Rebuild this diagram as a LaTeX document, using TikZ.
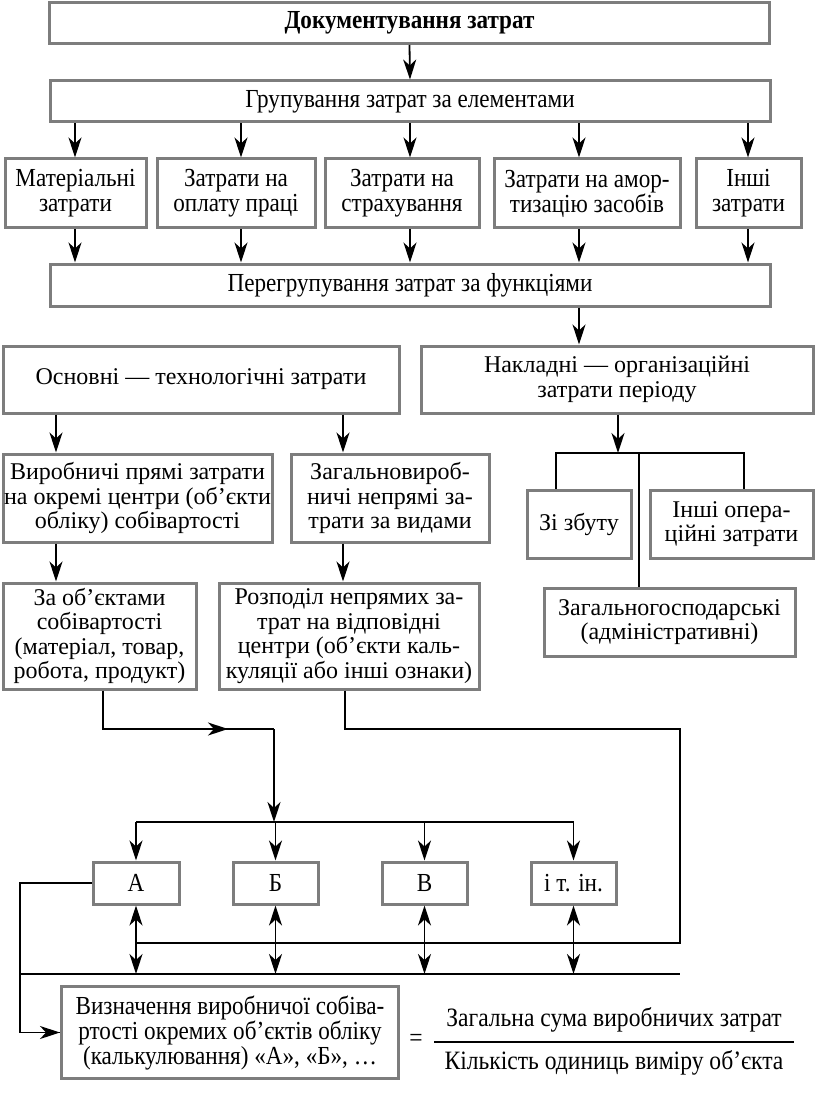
\documentclass[tikz,border=0pt]{standalone}
\usepackage{fontspec}
\setmainfont{Liberation Serif}
\newfontfamily\cond{Liberation Serif}[FakeStretch=0.89]
\usetikzlibrary{arrows.meta,calc}
\definecolor{boxgray}{RGB}{125,125,125}
\tikzset{
  >={Stealth[length=20pt,width=13pt,inset=6pt]},
  box/.style={draw=boxgray, line width=3pt, fill=white, align=center, inner sep=0pt},
  cbox/.style={box, font=\cond\fontsize{26}{25}\selectfont},
  rbox/.style={box, font=\fontsize{24}{24.5}\selectfont},
  conn/.style={line width=1.8pt, draw=black},
  arr/.style={conn, ->},
  darr/.style={conn, <->},
  ctext/.style={font=\cond\fontsize{26.5}{24}\selectfont, inner sep=0pt},
}
\begin{document}
\begin{tikzpicture}[x=1pt,y=-1pt]
\useasboundingbox (0,0) rectangle (816,1107);
\fill[white] (0,0) rectangle (816,1107);
% top boxes
\node[cbox, minimum width=720, minimum height=41] (doc) at (409.5,23) {\textbf{Документування затрат}};
\node[cbox, minimum width=720, minimum height=41] (grp) at (410,101.5) {Групування затрат за елементами};
\node[cbox, minimum width=141, minimum height=69] (m1) at (75.5,193.5) {Матеріальні\\затрати};
\node[cbox, minimum width=158, minimum height=69] (m2) at (236,193.5) {Затрати на\\оплату праці};
\node[cbox, minimum width=154, minimum height=69] (m3) at (402,193.5) {Затрати на\\страхування};
\node[cbox, minimum width=186, minimum height=69] (m4) at (587,193.5) {Затрати на амор-\\тизацію засобів};
\node[cbox, minimum width=105, minimum height=69] (m5) at (748.5,193.5) {Інші\\затрати};
\node[cbox, minimum width=720, minimum height=42] (regr) at (410,285) {Перегрупування затрат за функціями};
% column coordinates
\coordinate (c1) at (75,0);
\coordinate (c2) at (241,0);
\coordinate (c3) at (410,0);
\coordinate (c4) at (579,0);
\coordinate (c5) at (748,0);
\draw[arr] (doc.south) -- (grp.north);
\foreach \i in {1,...,5}{
  \draw[arr] (grp.south -| c\i) -- (m\i.north -| c\i);
  \draw[arr] (m\i.south -| c\i) -- (regr.north -| c\i);
}
% functional split
\node[rbox, minimum width=396, minimum height=67] (osn) at (201,379.5) {Основні — технологічні затрати};
\node[rbox, minimum width=392, minimum height=67] (nakl) at (617,379.5) {Накладні — організаційні\\затрати періоду};
\draw[arr] (regr.south -| c4) -- (nakl.north -| c4);
\node[rbox, minimum width=269, minimum height=88] (vyr) at (137.5,498) {Виробничі прямі затрати\\на окремі центри (об’єкти\\обліку) собівартості};
\node[rbox, minimum width=198, minimum height=88] (zag) at (390,498) {Загальновироб-\\ничі непрямі за-\\трати за видами};
\node[rbox, minimum width=193, minimum height=106] (zaob) at (99.5,636) {За об’єктами\\собівартості\\(матеріал, товар,\\робота, продукт)};
\node[rbox, minimum width=260, minimum height=106] (rozp) at (349,636) {Розподіл непрямих за-\\трат на відповідні\\центри (об’єкти каль-\\куляції або інші ознаки)};
\coordinate (k1) at (56,0);
\coordinate (k2) at (343,0);
\draw[arr] (osn.south -| k1) -- (vyr.north -| k1);
\draw[arr] (osn.south -| k2) -- (zag.north -| k2);
\draw[arr] (vyr.south -| k1) -- (zaob.north -| k1);
\draw[arr] (zag.south -| k2) -- (rozp.north -| k2);
% overhead split
\node[rbox, minimum width=104, minimum height=68] (zbut) at (579,524) {Зі збуту};
\node[rbox, minimum width=163, minimum height=68] (insh) at (731.5,524) {Інші опера-\\ційні затрати};
\node[rbox, minimum width=251, minimum height=68] (zagh) at (669.5,622) {Загальногосподарські\\(адміністративні)};
\coordinate (hb) at (618,453);
\coordinate (hl) at (556,453);
\coordinate (hr) at (744,453);
\coordinate (hm) at (639,453);
\draw[arr] (nakl.south -| hb) -- (hb);
\draw[conn] (zbut.north -| hl) -- (hl) -- (hr) -- (insh.north -| hr);
\draw[conn] (hm) -- (zagh.north -| hm);
% objects
\node[cbox, minimum width=86, minimum height=42] (oa) at (136,883) {А};
\node[cbox, minimum width=85, minimum height=42] (ob) at (275.5,883) {Б};
\node[cbox, minimum width=85, minimum height=42] (ov) at (424.5,883) {В};
\node[cbox, minimum width=85, minimum height=42] (oi) at (573.5,883) {і т. ін.};
\coordinate (la) at (103,729);
\coordinate (lm) at (228,729);
\coordinate (lj) at (274,729);
\coordinate (tl) at (274,822);
\coordinate (ra) at (345,729);
\coordinate (rb) at (680,729);
\coordinate (rc) at (680,943);
\coordinate (rd) at (135,943);
\coordinate (bl) at (20,974);
\coordinate (br) at (680,974);
\coordinate (fl) at (20,883);
\draw[conn] (zaob.south -| la) -- (la) -- (lj);
\draw[arr] (la) -- (lm);
\draw[arr] (lj) -- (tl);
\draw[conn] (oa.north |- tl) -- (oi.north |- tl);
\foreach \o in {oa,ob,ov,oi}{
  \draw[arr] (\o.north |- tl) -- (\o.north);
  \draw[darr] (\o.south) -- (\o.south |- bl);
}
\draw[conn] (rozp.south -| ra) -- (ra) -- (rb) -- (rc) -- (rd);
\draw[conn] (bl) -- (br);
% determination box
\node[cbox, minimum width=337, minimum height=92] (det) at (230,1032.5) {Визначення виробничої собіва-\\ртості окремих об’єктів обліку\\(калькулювання) «А», «Б», …};
\draw[conn] (oa.west) -- (fl) |- (det.west);
\draw[arr] (fl |- det.west) -- (det.west);
\node[ctext] (eq) at (416,1040) {=};
\node[ctext] (num) at (614,1020) {Загальна сума виробничих затрат};
\node[ctext] (den) at (614,1063) {Кількість одиниць виміру об’єкта};
\coordinate (fa) at (434,1042);
\coordinate (fb) at (794,1042);
\draw[conn] (fa) -- (fb);
\end{tikzpicture}
\end{document}
